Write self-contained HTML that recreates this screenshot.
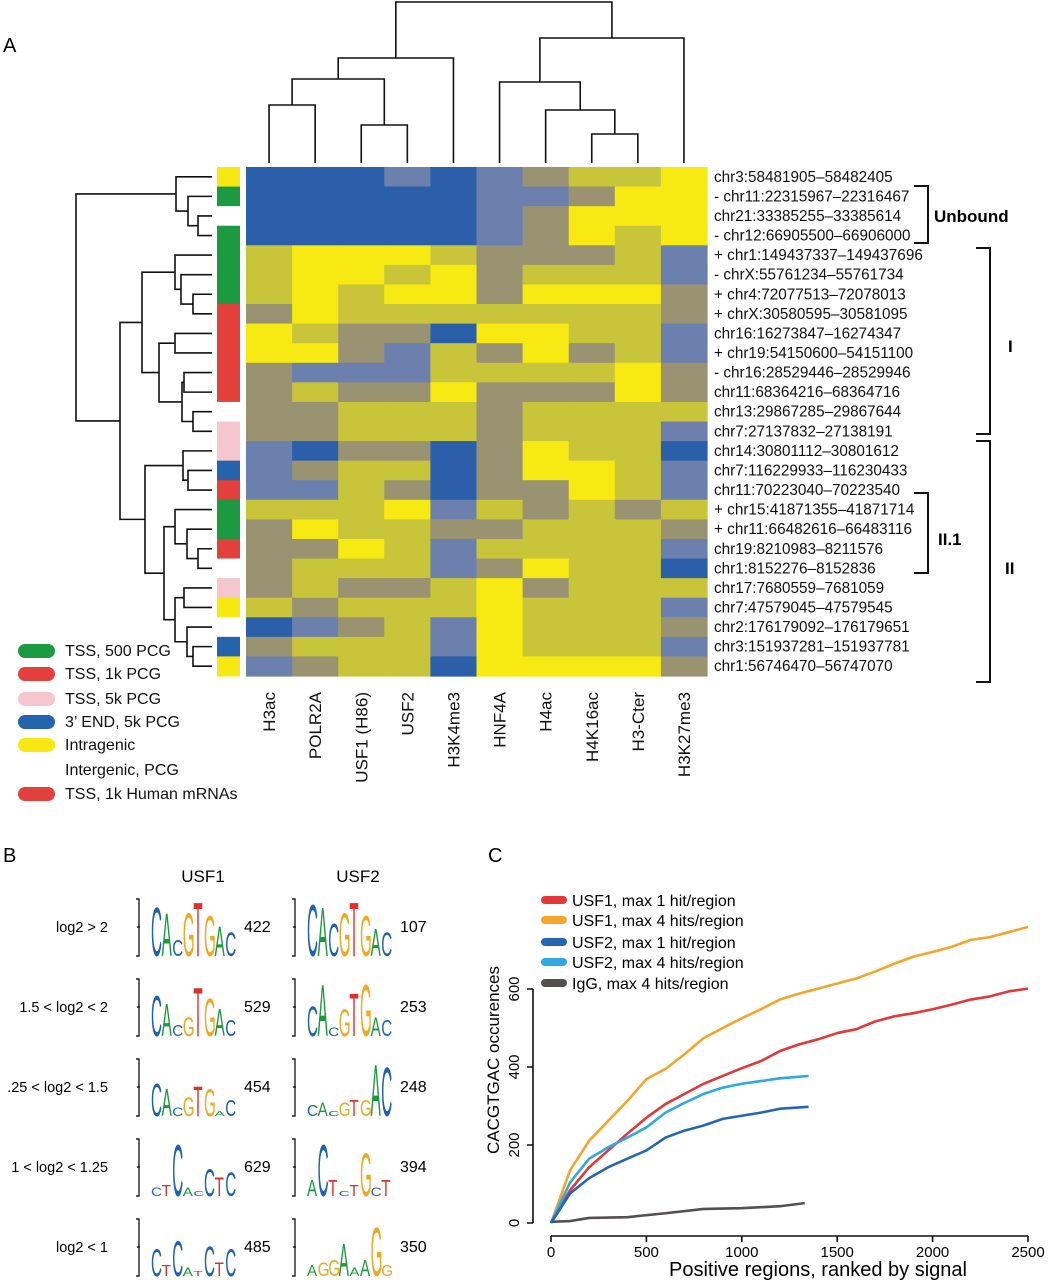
<!DOCTYPE html>
<html><head><meta charset="utf-8"><style>
body{margin:0;background:#fff}
svg{display:block;font-family:"Liberation Sans",Arial,sans-serif}
</style></head><body>
<svg id="fig" width="1048" height="1280" viewBox="0 0 1048 1280" xmlns="http://www.w3.org/2000/svg">
<text x="3" y="52" font-size="20">A</text>
<text x="3" y="862" font-size="20">B</text>
<text x="488" y="862" font-size="20">C</text>
<g id="hm"></g>
<g id="dend"></g>
<g id="legA"></g>
<g id="brk">
<path d="M914 186 H928 V243 H914 M976 248 H990 V434 H976 M976 441 H990 V682 H976 M914 493 H928 V573 H914" fill="none" stroke="#111" stroke-width="2"/>
<text x="934" y="222" font-size="17" font-weight="bold">Unbound</text>
<text x="1008" y="352" font-size="17" font-weight="bold">I</text>
<text x="1005" y="574" font-size="17" font-weight="bold">II</text>
<text x="938" y="545" font-size="17" font-weight="bold">II.1</text>
</g>
<g id="logos"></g>
<g id="chart"></g>
</svg>
<script>
const NS="http://www.w3.org/2000/svg";
function mk(tag,attrs,parent,txt){const e=document.createElementNS(NS,tag);for(const k in attrs)e.setAttribute(k,attrs[k]);if(txt!==undefined)e.textContent=txt;parent.appendChild(e);return e;}

// ---------- Heatmap data ----------
const hmColumns=["H3ac","POLR2A","USF1 (H86)","USF2","H3K4me3","HNF4A","H4ac","H4K16ac","H3-Cter","H3K27me3"];
const hmRows=["chr3:58481905–58482405","- chr11:22315967–22316467","chr21:33385255–33385614","- chr12:66905500–66906000","+ chr1:149437337–149437696","- chrX:55761234–55761734","+ chr4:72077513–72078013","+ chrX:30580595–30581095","chr16:16273847–16274347","+ chr19:54150600–54151100","- chr16:28529446–28529946","chr11:68364216–68364716","chr13:29867285–29867644","chr7:27137832–27138191","chr14:30801112–30801612","chr7:116229933–116230433","chr11:70223040–70223540","+ chr15:41871355–41871714","+ chr11:66482616–66483116","chr19:8210983–8211576","chr1:8152276–8152836","chr17:7680559–7681059","chr7:47579045–47579545","chr2:176179092–176179651","chr3:151937281–151937781","chr1:56746470–56747070"];
const hmValues=[
"0001012334","0000011244","0000012444","0000012434","3444322231","3443423331","3434424442","2433333332",
"4322044331","4421324231","2111333342","2322422242","2233323333","2233323331","1022024330","1233024431",
"1132022431","3334132323","2433223332","2243133331","2333124330","2322342333","3233343331","0123143332",
"2333143331","1233044442"];
const hmAnnot=["Y","G","W","G","G","G","G","R","R","R","R","R","W","P","P","B","R","G","G","R","W","P","Y","W","B","Y"];
const palette=["#2b5fa9","#6c80ae","#999372","#c8c53a","#f7ea12"];
const annotColors={Y:"#f7e812",G:"#1b9a42",R:"#e2403a",P:"#f6c6cf",B:"#2563ad",W:"#ffffff"};

const HX=246,HY=167,CW=46.1,RH=509/26;
const hm=document.getElementById('hm');
hmValues.forEach((row,r)=>{
  row.split('').forEach((v,c)=>{
    const el=mk('rect',{x:HX+c*CW,y:HY+r*RH,width:CW+0.6,height:RH+0.6,fill:palette[+v]},hm);
    
    
  });
  const a=mk('rect',{x:217,y:HY+r*RH,width:23,height:RH+0.5,fill:annotColors[hmAnnot[r]]},hm);
  
  
  const t=mk('text',{x:714,y:HY+r*RH+RH/2+5,'font-size':15.3,fill:'#111'},hm,hmRows[r]);
  
  
});
hmColumns.forEach((n,c)=>{
  const x=HX+(c+0.5)*CW+6;
  const t=mk('text',{x:0,y:0,'font-size':17,'text-anchor':'end',transform:`translate(${x},692) rotate(-90)`,fill:'#111'},hm,n);
  
  
});

// ---------- Dendrograms ----------
const dend=document.getElementById('dend');
function line(d){const p=mk('path',{d:d,fill:'none',stroke:'#111','stroke-width':1.6},dend);}
const colX=i=>HX+(i+0.5)*CW;
const topTree=[2,[58,[79,[105,0,1],[125,2,3]],4],[38,[82,5,[110,6,[134,7,8]]],9]];
function drawTop(n){ if(typeof n==='number') return {x:colX(n),y:163};
  const a=drawTop(n[1]),b=drawTop(n[2]),y=n[0];
  line(`M${a.x} ${a.y} V${y} H${b.x} V${b.y}`); return {x:(a.x+b.x)/2,y:y};}
drawTop(topTree);
const rowY=i=>HY+(i+0.5)*RH;
const leftTree=[76,[176,0,[188,1,[198,2,3]]],[120,[142,[175,4,[181,5,[193,6,7]]],[159,[175,8,9],[182,[184,10,11],[193,12,13]]]],[145,[183,14,[188,15,16]],[164,[175,17,[187,18,[198,19,20]]],[175,[184,21,22],[187,23,[193,24,25]]]]]]];
function drawLeft(n){ if(typeof n==='number') return {x:212,y:rowY(n)};
  const a=drawLeft(n[1]),b=drawLeft(n[2]),x=n[0];
  line(`M${a.x} ${a.y} H${x} V${b.y} H${b.x}`); return {x:x,y:(a.y+b.y)/2};}
drawLeft(leftTree);

// ---------- Annotation legend ----------
const legA=document.getElementById('legA');
const legItems=[["TSS, 500 PCG","#1b9a42"],["TSS, 1k PCG","#e2403a"],["TSS, 5k PCG","#f6c6cf"],["3’ END, 5k PCG","#2563ad"],["Intragenic","#f7e812"],["Intergenic, PCG",null],["TSS, 1k Human mRNAs","#e2403a"]];
const legY=[651,674,699,722,745,770,794];
legItems.forEach((it,i)=>{
  if(it[1]){const s=mk('rect',{x:18,y:legY[i]-7,width:37,height:14,rx:7,fill:it[1]},legA);}
  const t=mk('text',{x:65,y:legY[i]+5,'font-size':16,fill:'#111'},legA,it[0]);
  
  
});

// ---------- Motif logos ----------
const logos=document.getElementById('logos');
const lc={A:"#1a9a3a",C:"#1f5fb5",G:"#f0a820",T:"#e0302c"};
const logoRowLabels=["log2 > 2","1.5 < log2 < 2",".25 < log2 < 1.5","1 < log2 < 1.25","log2 < 1"];
const usf1Counts=["422","529","454","629","485"];
const usf2Counts=["107","253","248","394","350"];
const usf1Logos=[
 [["C",0.9],["A",0.8],["C",0.3],["G",0.8],["T",1.0],["G",0.75],["A",0.55],["C",0.45]],
 [["C",0.75],["A",0.6],["C",0.2],["G",0.35],["T",0.9],["G",0.7],["A",0.5],["C",0.3]],
 [["C",0.6],["A",0.5],["C",0.15],["G",0.35],["T",0.55],["G",0.5],["A",0.1],["C",0.3]],
 [["C",0.15],["T",0.2],["C",0.95],["A",0.15],["C",0.1],["C",0.5],["T",0.35],["C",0.45]],
 [["C",0.5],["T",0.2],["C",0.65],["A",0.15],["T",0.1],["C",0.55],["T",0.25],["C",0.5]]];
const usf2Logos=[
 [["C",0.95],["A",0.9],["C",0.6],["G",0.8],["T",1.0],["G",0.75],["A",0.5],["C",0.45]],
 [["C",0.55],["A",0.95],["C",0.15],["G",0.5],["T",0.8],["G",0.95],["A",0.35],["C",0.3]],
 [["C",0.2],["A",0.25],["C",0.1],["G",0.25],["T",0.3],["G",0.3],["A",0.95],["C",0.9]],
 [["A",0.3],["C",0.95],["T",0.3],["C",0.1],["T",0.2],["G",0.8],["C",0.15],["T",0.3]],
 [["A",0.2],["G",0.25],["G",0.3],["A",0.6],["A",0.15],["A",0.3],["G",0.9],["G",0.2]]];
const rowYc=[927,1007,1087,1167,1247];
const h1=mk('text',{x:203,y:882,'font-size':17,'text-anchor':'middle'},logos,"USF1");


const h2=mk('text',{x:358,y:882,'font-size':17,'text-anchor':'middle'},logos,"USF2");


function drawLogo(x0,yc,letters,count){
  const base=yc+29,top=yc-28;
  const br=mk('path',{d:`M${x0-4} ${top} H${x0-1} V${base} H${x0-4} M${x0-3} ${yc} H${x0}`,fill:'none',stroke:'#222','stroke-width':1.4},logos);
  
  
  const w=10.6, start=x0+11;
  letters.forEach((l,i)=>{
    const h=l[1]*55;
    const sy=h/14.3, sx=0.76;
    const t=mk('text',{x:0,y:0,'font-size':20,fill:lc[l[0]],transform:`translate(${start+i*w},${base}) scale(${sx},${sy})`},logos,l[0]);
    
    
  });
  const c=mk('text',{x:x0+104,y:yc+5,'font-size':16},logos,count);
  
  
}
logoRowLabels.forEach((lab,i)=>{
  const t=mk('text',{x:108,y:rowYc[i]+5,'font-size':14.5,'text-anchor':'end'},logos,lab);
  
  
  drawLogo(140,rowYc[i],usf1Logos[i],usf1Counts[i]);
  drawLogo(296,rowYc[i],usf2Logos[i],usf2Counts[i]);
});

// ---------- Line chart ----------
const xLong=[0,100,200,300,400,500,600,700,800,900,1000,1100,1200,1300,1400,1500,1600,1700,1800,1900,2000,2100,2200,2300,2400,2500];
const usf1Max4=[0,135,211,262,313,369,395,433,474,500,525,548,573,588,601,614,627,645,665,683,695,708,726,733,746,759];
const usf1Max1=[0,84,143,186,229,270,305,331,357,377,397,415,441,458,471,487,497,517,530,538,548,560,573,581,594,601];
const xShort=[0,100,200,300,400,500,600,700,800,900,1000,1100,1200,1350];
const usf2Max4=[0,104,165,194,219,245,283,308,331,347,357,364,371,377];
const usf2Max1=[0,76,115,143,165,186,219,237,250,267,275,283,293,298];
const xIgg=[0,100,200,400,600,800,1000,1200,1330];
const iggMax4=[3,5,13,15,25,36,38,43,51];
const xTicks=[0,500,1000,1500,2000,2500];
const yTicks=[0,200,400,600];
const X=v=>551+v*(1028-551)/2500;
const Y=v=>1223-v*(1223-989)/600;
const ch=document.getElementById('chart');
const ax=mk('path',{d:`M${X(0)} 1236 H${X(2500)}`+xTicks.map(t=>`M${X(t)} 1236 V1242`).join(''),stroke:'#111','stroke-width':1.6,fill:'none'},ch);


xTicks.forEach(t=>{const e=mk('text',{x:X(t),y:1257,'font-size':15,'text-anchor':'middle'},ch,String(t));});
const ay=mk('path',{d:`M533 ${Y(0)} V${Y(600)}`+yTicks.map(t=>`M527 ${Y(t)} H533`).join(''),stroke:'#111','stroke-width':1.6,fill:'none'},ch);


yTicks.forEach(t=>{const e=mk('text',{x:0,y:0,'font-size':15,'text-anchor':'middle',transform:`translate(519,${Y(t)}) rotate(-90)`},ch,String(t));});
const yt=mk('text',{x:0,y:0,'font-size':17,'text-anchor':'middle',transform:'translate(499,1060) rotate(-90)'},ch,"CACGTGAC occurences");


const xt=mk('text',{x:818,y:1276,'font-size':20,'text-anchor':'middle'},ch,"Positive regions, ranked by signal");


const series=[[xLong,usf1Max1,"#e4373a","usf1-max1-line"],[xLong,usf1Max4,"#f3a52c","usf1-max4-line"],[xShort,usf2Max1,"#2466b2","usf2-max1-line"],[xShort,usf2Max4,"#2fa8e4","usf2-max4-line"],[xIgg,iggMax4,"#555050","igg-max4-line"]];
const drawOrder=[4,1,0,3,2];
drawOrder.forEach(i=>{const s=series[i];
  const p=mk('polyline',{points:s[0].map((x,j)=>X(x)+","+Y(s[1][j])).join(' '),fill:'none',stroke:s[2],'stroke-width':2.6,'stroke-linejoin':'round'},ch);
  
  
});
const legNames=["USF1, max 1 hit/region","USF1, max 4 hits/region","USF2, max 1 hit/region","USF2, max 4 hits/region","IgG, max 4 hits/region"];
const legYs=[900,920,942,962,983];
legNames.forEach((n,i)=>{
  const s=mk('rect',{x:541,y:legYs[i]-4,width:26,height:8,rx:4,fill:series[i][2]},ch);
  
  
  const t=mk('text',{x:572,y:legYs[i]+6,'font-size':16},ch,n);
  
  
});
</script>
</body></html>
